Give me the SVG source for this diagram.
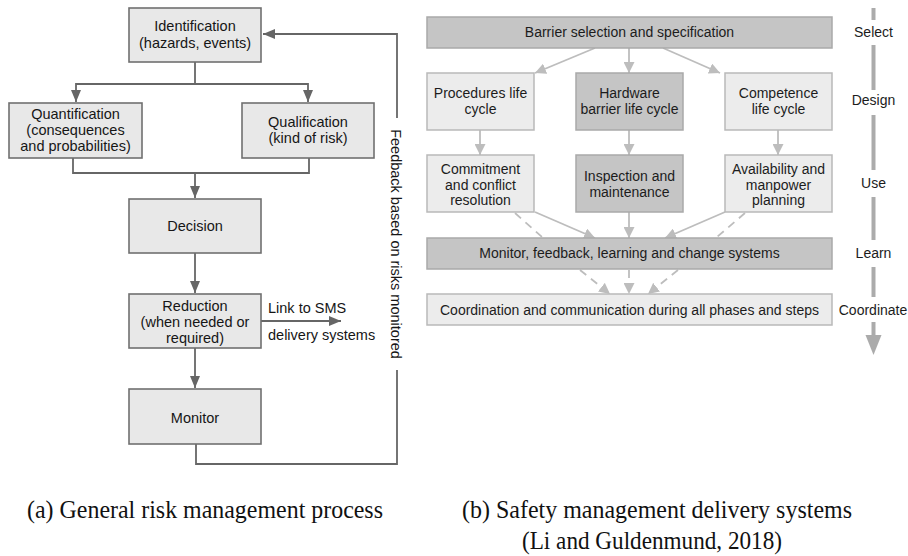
<svg xmlns="http://www.w3.org/2000/svg" width="908" height="556" viewBox="0 0 908 556">
<style>
.lb{fill:#e8e8e8;stroke:#707070;stroke-width:1.6}
.lt{font-family:"Liberation Sans",Arial,sans-serif;font-size:14.5px;fill:#161616;text-anchor:middle}
.rt{font-family:"Liberation Sans",Arial,sans-serif;font-size:14px;fill:#1c1c1c;text-anchor:middle}
.rl{fill:#ececec;stroke:#b9b9b9;stroke-width:1.5}
.rd{fill:#c5c5c5;stroke:#a9a9a9;stroke-width:1.5}
.lc{fill:none;stroke:#666;stroke-width:1.8}
.rc{fill:none;stroke:#bdbdbd;stroke-width:1.8}
.dash{stroke-dasharray:8 6}
.cap{font-family:"Liberation Serif","Times New Roman",serif;font-size:26px;fill:#111}
.bar{fill:#ababab}
</style>
<defs>
<marker id="ah" markerWidth="12" markerHeight="10" refX="12" refY="5" orient="auto" markerUnits="userSpaceOnUse"><path d="M0,0 L12,5 L0,10 z" fill="#666"/></marker>
<marker id="ahl" markerWidth="11" markerHeight="11" refX="11" refY="5.5" orient="auto" markerUnits="userSpaceOnUse"><path d="M0,0 L11,5.5 L0,11 z" fill="#bdbdbd"/></marker>
</defs>
<g id="connectors">
<path class="lc" d="M195,62 V84"/>
<path class="lc" d="M195,84 H76 V102" marker-end="url(#ah)"/>
<path class="lc" d="M195,84 H308 V102" marker-end="url(#ah)"/>
<path class="lc" d="M73,158 V173 H309 V158"/>
<path class="lc" d="M195,173 V198" marker-end="url(#ah)"/>
<path class="lc" d="M195,253 V293" marker-end="url(#ah)"/>
<path class="lc" d="M195,348 V388" marker-end="url(#ah)"/>
<path class="lc" d="M261,321 H341" marker-end="url(#ah)"/>
<path class="lc" d="M196,444 V464 H397 V370"/>
<path class="lc" d="M397,118 V34 H263" marker-end="url(#ah)"/>
<path class="rc" d="M595,48 L535,73" marker-end="url(#ahl)"/>
<path class="rc" d="M629,48 V73" marker-end="url(#ahl)"/>
<path class="rc" d="M663,48 L720,73" marker-end="url(#ahl)"/>
<path class="rc" d="M480,130 V155" marker-end="url(#ahl)"/>
<path class="rc" d="M629,130 V155" marker-end="url(#ahl)"/>
<path class="rc" d="M778,130 V155" marker-end="url(#ahl)"/>
<path class="rc" d="M535,212 L595,238" marker-end="url(#ahl)"/>
<path class="rc" d="M629,212 V238" marker-end="url(#ahl)"/>
<path class="rc" d="M725,212 L665,238" marker-end="url(#ahl)"/>
<path class="rc dash" d="M515,213 L542,237"/>
<path class="rc dash" d="M745,213 L717,237"/>
<path class="rc dash" d="M580,270 L610,294" marker-end="url(#ahl)"/>
<path class="rc dash" d="M629,270 V294" marker-end="url(#ahl)"/>
<path class="rc dash" d="M678,270 L648,294" marker-end="url(#ahl)"/>
</g>
<g id="identification"><rect class="lb" x="129" y="8" width="132" height="54"/><text class="lt" x="195" y="31">Identification</text><text class="lt" x="195" y="48">(hazards, events)</text></g>
<g id="quantification"><rect class="lb" x="9" y="103" width="133" height="55"/><text class="lt" x="75.5" y="119">Quantification</text><text class="lt" x="75.5" y="135">(consequences</text><text class="lt" x="75.5" y="151">and probabilities)</text></g>
<g id="qualification"><rect class="lb" x="242" y="103" width="132" height="55"/><text class="lt" x="308" y="127">Qualification</text><text class="lt" x="308" y="143">(kind of risk)</text></g>
<g id="decision"><rect class="lb" x="129" y="199" width="132" height="54"/><text class="lt" x="195" y="231">Decision</text></g>
<g id="reduction"><rect class="lb" x="129" y="294" width="132" height="54"/><text class="lt" x="195" y="311">Reduction</text><text class="lt" x="195" y="327">(when needed or</text><text class="lt" x="195" y="343">required)</text></g>
<g id="monitor"><rect class="lb" x="129" y="389" width="132" height="55"/><text class="lt" x="195" y="423">Monitor</text></g>
<g id="sms-link"><text class="lt" style="text-anchor:start" x="268" y="313">Link to SMS</text><text class="lt" style="text-anchor:start" x="268" y="340">delivery systems</text></g>
<g id="feedback-label"><text class="lt" transform="translate(391,244) rotate(90)">Feedback based on risks monitored</text></g>
<g id="barrier-selection"><rect class="rd" x="427" y="17" width="405" height="31"/><text class="rt" x="629.5" y="37">Barrier selection and specification</text></g>
<g id="procedures"><rect class="rl" x="427" y="73" width="107" height="57"/><text class="rt" x="480.5" y="98">Procedures life</text><text class="rt" x="480.5" y="114">cycle</text></g>
<g id="hardware"><rect class="rd" x="576" y="73" width="107" height="57"/><text class="rt" x="629.5" y="98">Hardware</text><text class="rt" x="629.5" y="114">barrier life cycle</text></g>
<g id="competence"><rect class="rl" x="725" y="73" width="107" height="57"/><text class="rt" x="778.5" y="98">Competence</text><text class="rt" x="778.5" y="114">life cycle</text></g>
<g id="commitment"><rect class="rl" x="427" y="155" width="107" height="57"/><text class="rt" x="480.5" y="174">Commitment</text><text class="rt" x="480.5" y="189.5">and conflict</text><text class="rt" x="480.5" y="205">resolution</text></g>
<g id="inspection"><rect class="rd" x="576" y="155" width="107" height="57"/><text class="rt" x="629.5" y="181">Inspection and</text><text class="rt" x="629.5" y="196.5">maintenance</text></g>
<g id="availability"><rect class="rl" x="725" y="155" width="107" height="57"/><text class="rt" x="778.5" y="174">Availability and</text><text class="rt" x="778.5" y="189.5">manpower</text><text class="rt" x="778.5" y="205">planning</text></g>
<g id="monitor-feedback"><rect class="rd" x="427" y="238" width="405" height="31"/><text class="rt" x="629.5" y="258">Monitor, feedback, learning and change systems</text></g>
<g id="coordination"><rect class="rl" x="427" y="294" width="405" height="31"/><text class="rt" x="629.5" y="315">Coordination and communication during all phases and steps</text></g>
<g id="phase-axis">
<rect class="bar" x="871.5" y="8" width="4" height="12"/>
<rect class="bar" x="871.5" y="45" width="4" height="45"/>
<rect class="bar" x="871.5" y="115" width="4" height="55"/>
<rect class="bar" x="871.5" y="197" width="4" height="43"/>
<rect class="bar" x="871.5" y="267" width="4" height="30"/>
<rect class="bar" x="871.5" y="322" width="4" height="14"/>
<polygon class="bar" points="865.5,335 881.5,335 873.5,355"/>
<text class="rt" x="873.5" y="37">Select</text>
<text class="rt" x="873.5" y="105">Design</text>
<text class="rt" x="873.5" y="188">Use</text>
<text class="rt" x="873.5" y="258">Learn</text>
<text class="rt" x="873" y="315">Coordinate</text>
</g>
<g id="captions">
<text class="cap" x="27" y="518" textLength="356" lengthAdjust="spacingAndGlyphs">(a) General risk management process</text>
<text class="cap" x="462" y="518" textLength="390" lengthAdjust="spacingAndGlyphs">(b) Safety management delivery systems</text>
<text class="cap" x="522" y="549" textLength="260" lengthAdjust="spacingAndGlyphs">(Li and Guldenmund, 2018)</text>
</g>
</svg>
